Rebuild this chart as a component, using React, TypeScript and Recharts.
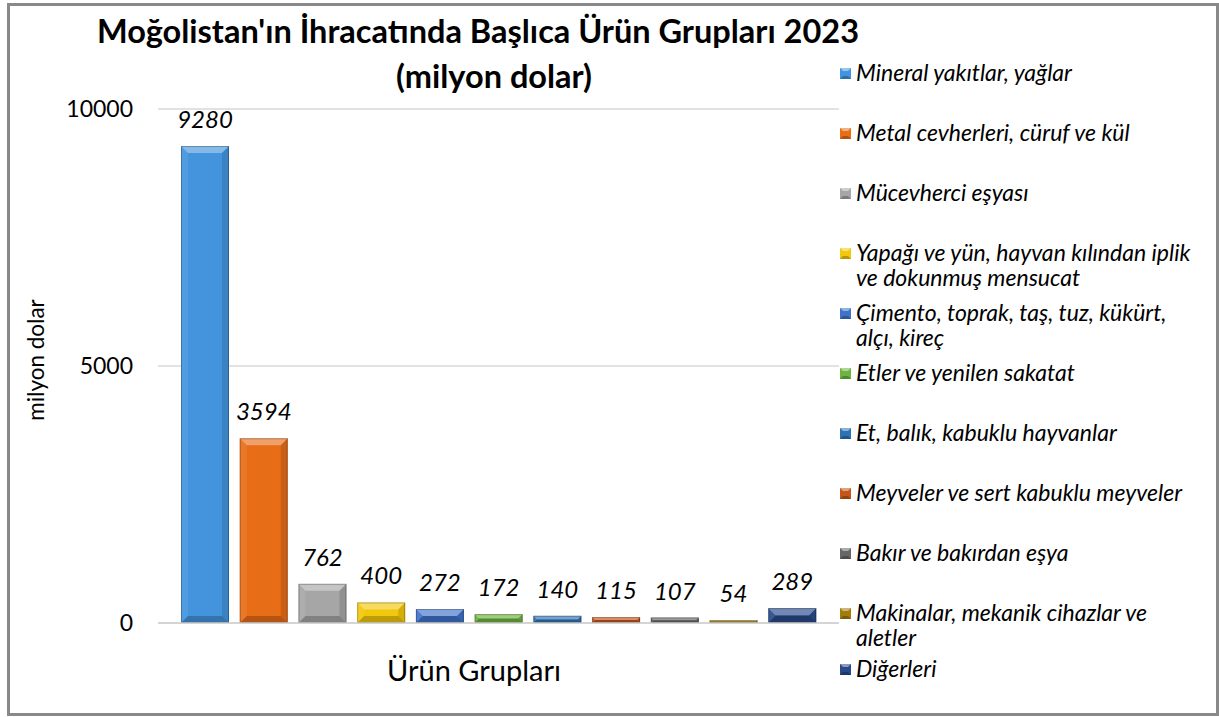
import React from 'react';
import { BarChart, Bar, XAxis, YAxis, CartesianGrid, Cell, LabelList } from 'recharts';

// legend breaks lines where the original does ("\n")
const categories = [
  'Mineral yakıtlar, yağlar',
  'Metal cevherleri, cüruf ve kül',
  'Mücevherci eşyası',
  'Yapağı ve yün, hayvan kılından iplik\nve dokunmuş mensucat',
  'Çimento, toprak, taş, tuz, kükürt,\nalçı, kireç',
  'Etler ve yenilen sakatat',
  'Et, balık, kabuklu hayvanlar',
  'Meyveler ve sert kabuklu meyveler',
  'Bakır ve bakırdan eşya',
  'Makinalar, mekanik cihazlar ve\naletler',
  'Diğerleri',
];
const values = [9280, 3594, 762, 400, 272, 172, 140, 115, 107, 54, 289];
const yTicks = [0, 5000, 10000];

const COLORS = [
  '#4394dc', '#e86d17', '#a6a6a6', '#f2c80c', '#3f72c9', '#6cb33f',
  '#2d72b2', '#c4561a', '#676767', '#a27d0c', '#294a8a',
];

const FONT = 'Lato, "Open Sans", sans-serif';

const chartData = categories.map((name, i) => ({ name, value: values[i], fill: COLORS[i] }));

// bevelled bar like the Excel original
const BevelBar = (props: any) => {
  const { x, y, width, height, fill } = props;
  if (!height || height <= 0) return null;
  const b = Math.min(7, height / 2, width / 2);
  return (
    <g>
      <rect x={x} y={y} width={width} height={height} fill={fill} />
      <polygon points={`${x},${y} ${x + width},${y} ${x + width - b},${y + b} ${x + b},${y + b}`} fill="#fff" fillOpacity={0.35} />
      <polygon points={`${x},${y + height} ${x + width},${y + height} ${x + width - b},${y + height - b} ${x + b},${y + height - b}`} fill="#000" fillOpacity={0.22} />
      <polygon points={`${x},${y} ${x + b},${y + b} ${x + b},${y + height - b} ${x},${y + height}`} fill="#fff" fillOpacity={0.08} />
      <polygon points={`${x + width},${y} ${x + width - b},${y + b} ${x + width - b},${y + height - b} ${x + width},${y + height}`} fill="#000" fillOpacity={0.12} />
      <rect x={x + 0.5} y={y + 0.5} width={width - 1} height={Math.max(0, height - 1)} fill="none" stroke="#000" strokeOpacity={0.25} />
    </g>
  );
};

const LegendMarker = ({ color }: { color: string }) => (
  <svg width={11} height={11} style={{ flex: 'none', marginTop: 8, marginRight: 5 }}>
    <rect x={0} y={0} width={11} height={11} fill={color} />
    <polygon points="0,0 11,0 8,3 3,3" fill="#fff" fillOpacity={0.45} />
    <polygon points="0,11 11,11 8,8 3,8" fill="#000" fillOpacity={0.25} />
  </svg>
);

export default function App() {
  return (
    <div style={{ position: 'absolute', left: 0, top: 0, width: 1219, height: 717, background: '#fff', fontFamily: FONT, overflow: 'hidden' }}>
      <div style={{ position: 'absolute', left: 7, top: 3, width: 1206, height: 707, border: '3px solid #898989' }} />

      <div style={{ position: 'absolute', left: 0, width: 956, top: 8, textAlign: 'center', fontWeight: 'bold', fontSize: 32.5, lineHeight: '45px', color: '#000' }}>
        Moğolistan'ın İhracatında Başlıca Ürün Grupları 2023
        <br />
        <span style={{ position: 'relative', left: 16 }}>(milyon dolar)</span>
      </div>

      <div style={{ position: 'absolute', left: 35, top: 360, transform: 'translate(-50%, -50%) rotate(-90deg)', fontSize: 22.5, whiteSpace: 'nowrap' }}>
        milyon dolar
      </div>

      <div style={{ position: 'absolute', left: 474, top: 669, transform: 'translate(-50%, -50%)', fontSize: 29, whiteSpace: 'nowrap' }}>
        Ürün Grupları
      </div>

      <BarChart
        width={1219}
        height={717}
        data={chartData}
        margin={{ top: 109, right: 380, bottom: 64, left: 98 }}
        style={{ position: 'absolute', left: 0, top: 0 }}
      >
        <CartesianGrid horizontal vertical={false} stroke="#d9d9d9" strokeWidth={1.5} />
        <XAxis dataKey="name" tick={false} tickLine={false} axisLine={{ stroke: '#d0d0d0', strokeWidth: 1.5 }} padding={{ left: 18, right: 17 }} height={30} />
        <YAxis
          domain={[0, 10000]}
          ticks={yTicks}
          width={60}
          axisLine={false}
          tickLine={false}
          tickMargin={19}
          tick={{ fill: '#000', fontSize: 23, fontFamily: FONT }}
        />
        <Bar dataKey="value" barSize={48} isAnimationActive={false} shape={<BevelBar />}>
          {chartData.map((d, i) => (
            <Cell key={`cell-${i}`} fill={d.fill} />
          ))}
          <LabelList dataKey="value" position="top" offset={18} style={{ fill: '#000', fontSize: 24, fontStyle: 'italic', fontFamily: FONT }} />
        </Bar>
      </BarChart>

      <div style={{ position: 'absolute', left: 840, top: 60, width: 370 }}>
        {chartData.map((d, i) => (
          <div
            key={d.name}
            style={{
              position: 'absolute',
              left: 0,
              top: i < 10 ? i * 60 : 596,
              display: 'flex',
              alignItems: 'flex-start',
              width: 370,
              fontSize: 23,
              fontStyle: 'italic',
              lineHeight: '25px',
              color: '#000',
            }}
          >
            <LegendMarker color={d.fill} />
            <span style={{ whiteSpace: 'pre' }}>{d.name}</span>
          </div>
        ))}
      </div>
    </div>
  );
}
